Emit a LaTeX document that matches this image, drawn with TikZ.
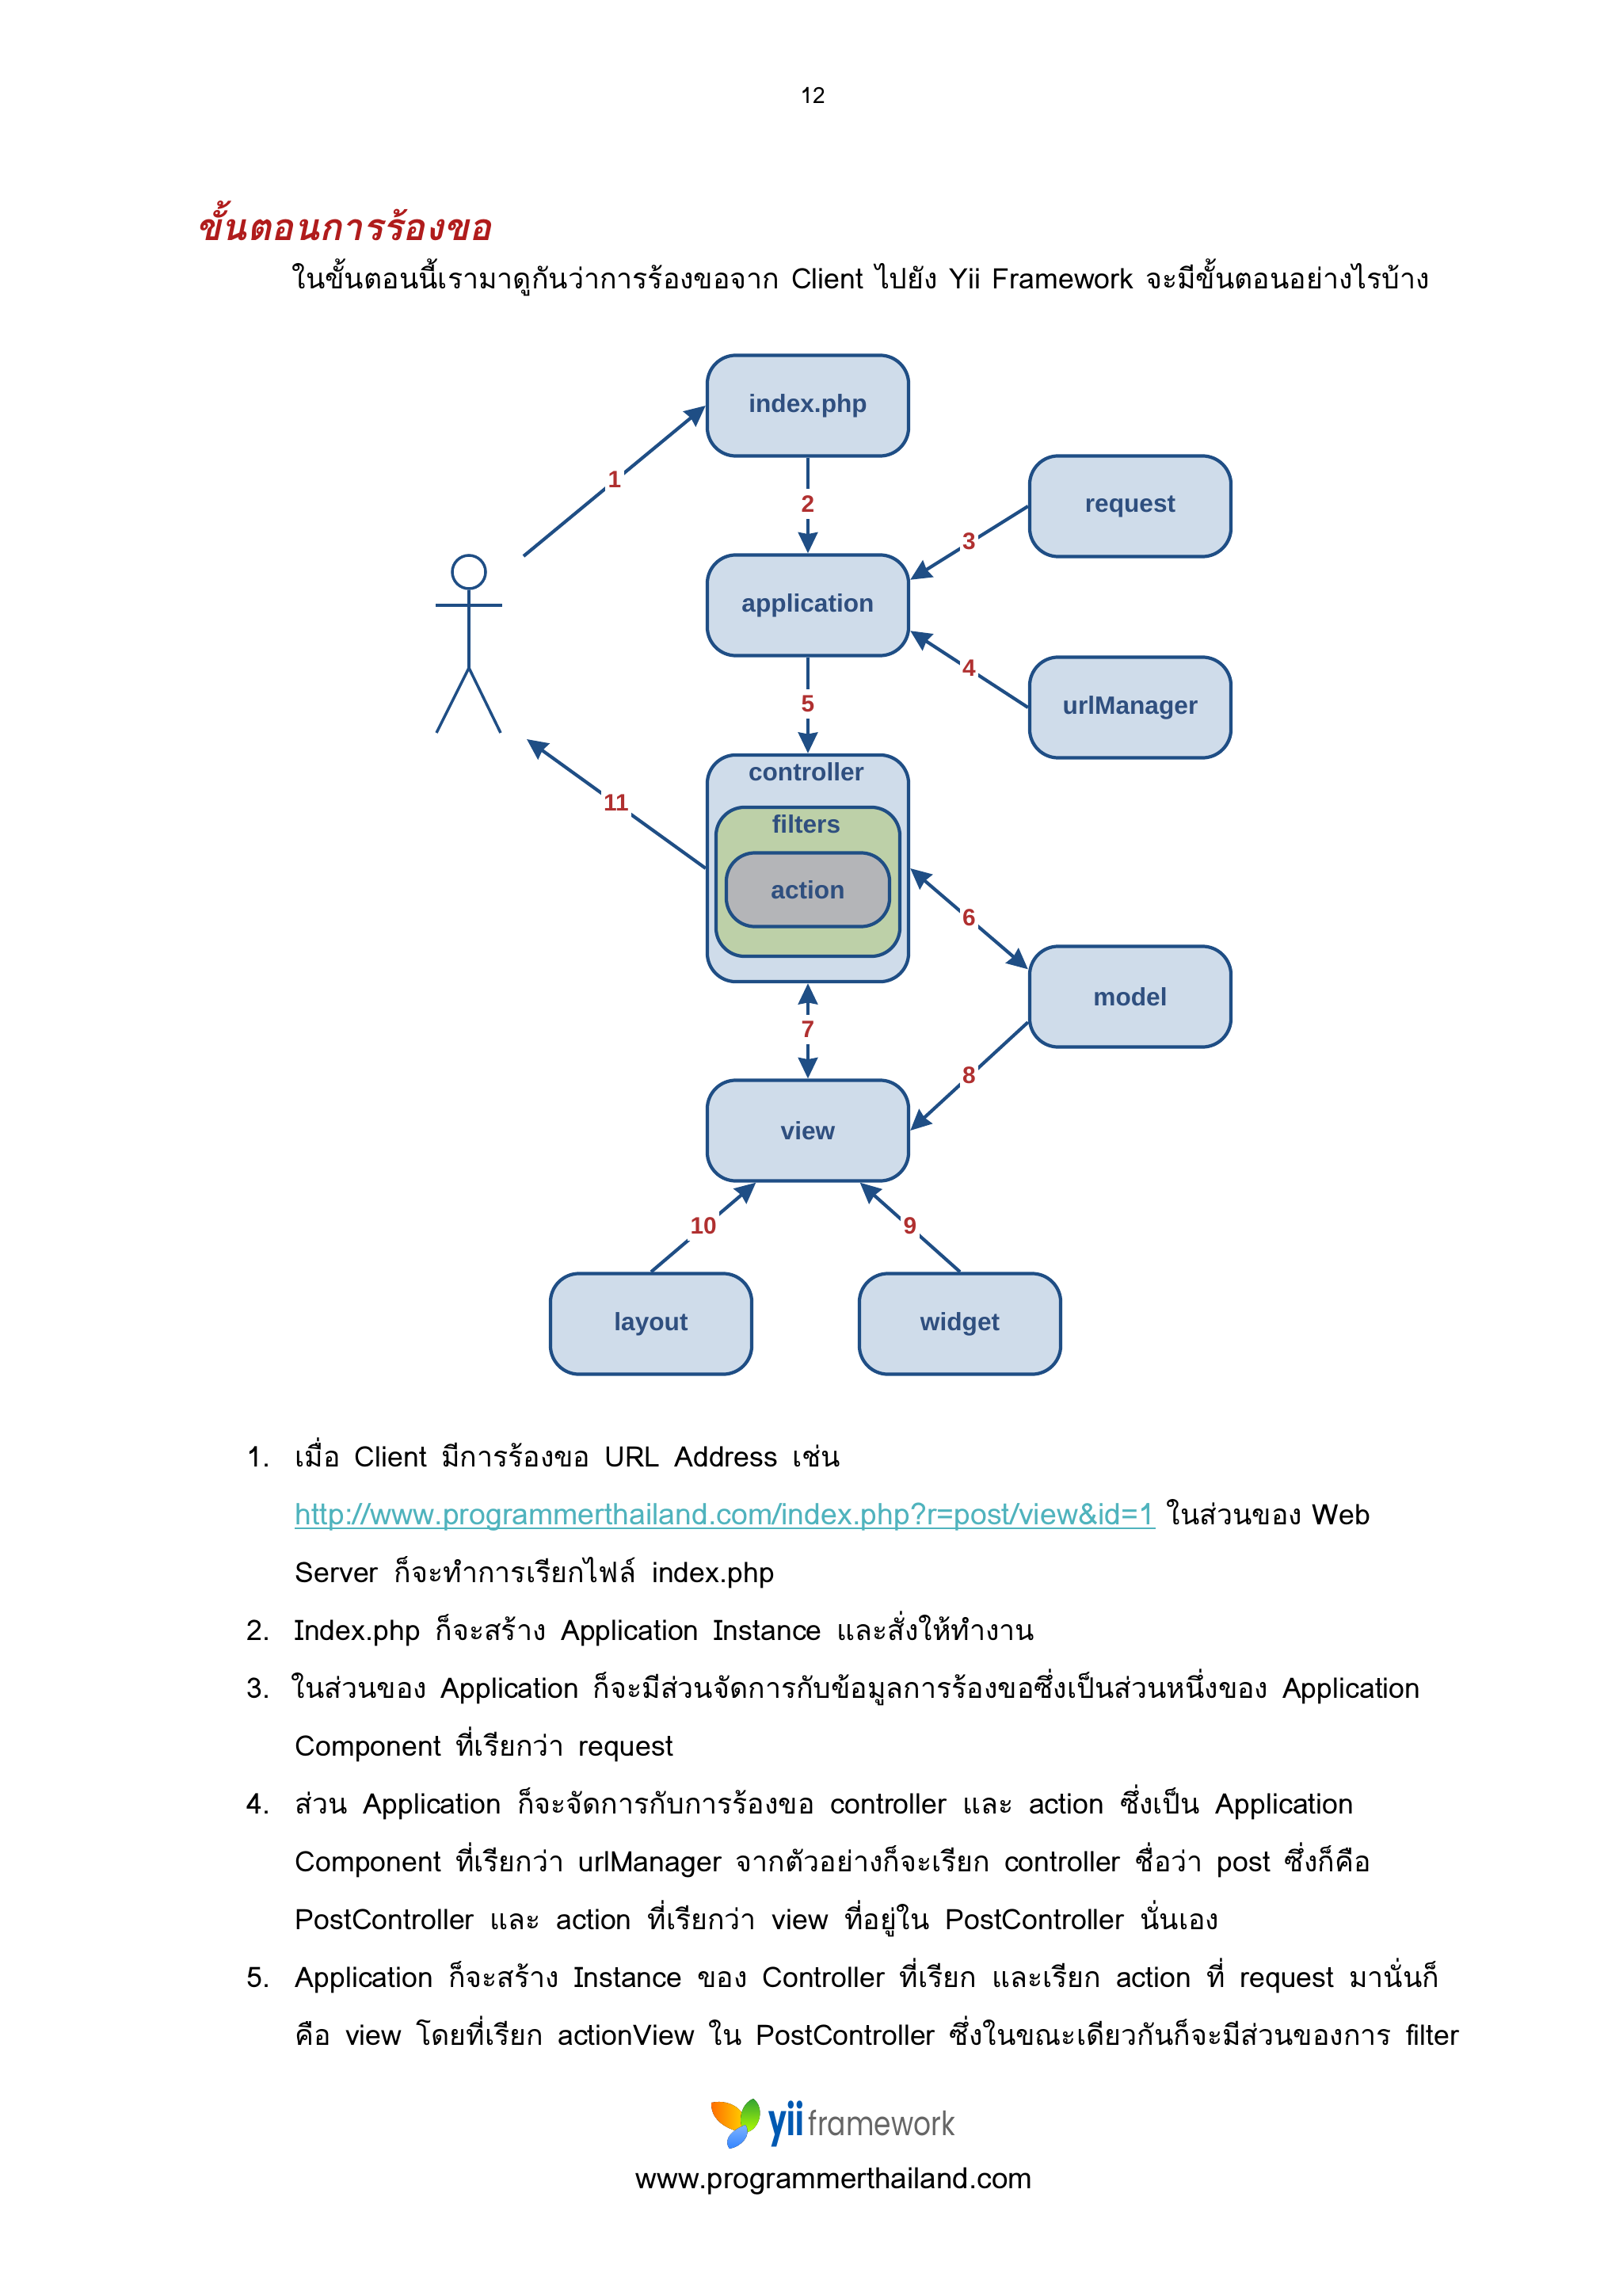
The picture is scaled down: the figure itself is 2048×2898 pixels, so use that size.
\documentclass[tikz,border=0pt]{standalone}
\usepackage{fontspec}
\usepackage{tikz}
\usetikzlibrary{arrows.meta}
\setmainfont{Liberation Sans}
\newfontfamily\thaifont[Script=Thai]{Loma}
\newfontfamily\logofont{Poppins}
\definecolor{boxblue}{HTML}{CFDCEA}
\definecolor{boxline}{HTML}{1F4E85}
\definecolor{boxtext}{HTML}{2F4F7F}
\definecolor{filtergreen}{HTML}{BDD0A8}
\definecolor{actiongrey}{HTML}{B4B5B8}
\definecolor{steptext}{HTML}{B03030}
\definecolor{headred}{HTML}{B01C1C}
\definecolor{linkteal}{HTML}{4FB3BD}
\def\fitline#1#2{\makebox[#1cm][s]{#2}}
\tikzset{
	blockbox/.style={draw=boxline, line width=1.2pt, fill=boxblue, rounded corners=0.36cm, minimum width=2.54cm, minimum height=1.27cm, text=boxtext, font=\bfseries\fontsize{9}{11}\selectfont},
	blocktext/.style={text=boxtext, font=\bfseries\fontsize{9}{11}\selectfont},
	flow/.style={draw=boxline, line width=1.2pt, -{Stealth[length=7.5pt, width=7pt, inset=0.6pt]}},
	twoway/.style={draw=boxline, line width=1.2pt, {Stealth[length=7.5pt, width=7pt, inset=0.6pt]}-{Stealth[length=7.5pt, width=7pt, inset=0.6pt]}},
	steplabel/.style={midway, fill=white, inner xsep=1pt, inner ysep=2.4pt, yshift=0.5pt, text=steptext, font=\bfseries\fontsize{8.5}{10}\selectfont},
	actorline/.style={draw=boxline, line width=1pt},
	bodytext/.style={anchor=base west, inner sep=0pt, font=\thaifont\fontsize{10.15}{12}\selectfont},
}

\begin{document}
\begin{tikzpicture}[x=0.01cm, y=-0.01cm]
	\useasboundingbox (0, 0) rectangle (2048, 2898);

	\node[inner sep=0pt, font=\thaifont\fontsize{8}{10}\selectfont] (pagenum) at (1026, 120) {12};
	\node[bodytext, text=headred, font=\thaifont\bfseries\itshape\fontsize{13.4}{16}\selectfont] (heading) at (247, 304) {ขั้นตอนการร้องขอ};
	\node[bodytext] (intro) at (368, 365) {\fitline{14.35}{ในขั้นตอนนี้เรามาดูกันว่าการร้องขอจาก Client ไปยัง Yii Framework จะมีขั้นตอนอย่างไรบ้าง}};

	\node[blockbox] (index) at (1020, 512) {index.php};
	\node[blockbox] (application) at (1020, 764) {application};
	\node[blockbox] (request) at (1427, 639) {request};
	\node[blockbox] (urlmanager) at (1427, 893) {urlManager};
	\node[blockbox, minimum height=2.86cm] (controller) at (1020, 1096) {};
	\node[blockbox, fill=filtergreen, minimum width=2.32cm, minimum height=1.88cm] (filters) at (1020, 1113) {};
	\node[blockbox, fill=actiongrey, minimum width=2.06cm, minimum height=0.93cm] (action) at (1020, 1123) {action};
	\node[blocktext] (controllertext) at (1018, 974) {controller};
	\node[blocktext] (filterstext) at (1018, 1040) {filters};
	\node[blockbox] (model) at (1427, 1258) {model};
	\node[blockbox] (view) at (1020, 1427) {view};
	\node[blockbox] (layout) at (822, 1671) {layout};
	\node[blockbox] (widget) at (1212, 1671) {widget};

	\node[circle, actorline, minimum size=0.42cm, inner sep=0pt] (head) at (592, 722) {};
	\draw[actorline] (head.south) -- (592, 843);
	\draw[actorline] (550, 764) -- (634, 764);
	\draw[actorline] (551, 925) -- (592, 843) -- (632, 925);
	\coordinate (actorout) at (661, 702);
	\coordinate (actorin) at (665, 933);

	\draw[flow] (actorout) -- node[steplabel] (one) {1} (index.west);
	\draw[flow] (index) -- node[steplabel] (two) {2} (application);
	\draw[flow] (request.west) -- node[steplabel] (three) {3} (application.14);
	\draw[flow] (urlmanager.west) -- node[steplabel] (four) {4} (application.-14);
	\draw[flow] (application) -- node[steplabel] (five) {5} (controller);
	\draw[twoway] (controller.east) -- node[steplabel] (six) {6} (model.165);
	\draw[twoway] (controller) -- node[steplabel] (seven) {7} (view);
	\draw[flow] (model.194) -- node[steplabel] (eight) {8} (view.east);
	\draw[flow] (widget.north) -- node[steplabel] (nine) {9} (view.315);
	\draw[flow] (layout.north) -- node[steplabel] (ten) {10} (view.225);
	\draw[flow] (controller.west) -- node[steplabel] (eleven) {11} (actorin);

	\node[bodytext] (numone) at (311, 1851) {1.};
	\node[bodytext] (lineone) at (372, 1851) {\fitline{6.88}{เมื่อ Client มีการร้องขอ URL Address เช่น}};
	\node[bodytext, text=linkteal, font=\thaifont\fontsize{10.66}{12}\selectfont] (link) at (372, 1924) {http://www.programmerthailand.com/index.php?r=post/view\&id=1};
	\draw[linkteal, line width=0.6pt] ([yshift=-1.5pt]link.base west) -- ([yshift=-1.5pt]link.base east);
	\node[bodytext] (linetwo) at (1472, 1924) {\fitline{2.57}{ในส่วนของ Web}};
	\node[bodytext] (linethree) at (372, 1997) {\fitline{6.05}{Server ก็จะทำการเรียกไฟล์ index.php}};
	\node[bodytext] (numtwo) at (311, 2070) {2.};
	\node[bodytext] (linefour) at (372, 2070) {\fitline{9.33}{Index.php ก็จะสร้าง Application Instance และสั่งให้ทำงาน}};
	\node[bodytext] (numthree) at (311, 2143) {3.};
	\node[bodytext] (linefive) at (367, 2143) {\fitline{14.25}{ในส่วนของ Application ก็จะมีส่วนจัดการกับข้อมูลการร้องขอซึ่งเป็นส่วนหนึ่งของ Application}};
	\node[bodytext] (linesix) at (372, 2216) {\fitline{4.77}{Component ที่เรียกว่า request}};
	\node[bodytext] (numfour) at (311, 2289) {4.};
	\node[bodytext] (lineseven) at (372, 2289) {\fitline{13.36}{ส่วน Application ก็จะจัดการกับการร้องขอ controller และ action ซึ่งเป็น Application}};
	\node[bodytext] (lineeight) at (372, 2362) {\fitline{13.57}{Component ที่เรียกว่า urlManager จากตัวอย่างก็จะเรียก controller ชื่อว่า post ซึ่งก็คือ}};
	\node[bodytext] (linenine) at (372, 2435) {\fitline{11.66}{PostController และ action ที่เรียกว่า view ที่อยู่ใน PostController นั่นเอง}};
	\node[bodytext] (numfive) at (311, 2508) {5.};
	\node[bodytext] (lineten) at (372, 2508) {\fitline{14.44}{Application ก็จะสร้าง Instance ของ Controller ที่เรียก และเรียก action ที่ request มานั่นก็}};
	\node[bodytext] (lineeleven) at (372, 2581) {\fitline{14.69}{คือ view โดยที่เรียก actionView ใน PostController ซึ่งในขณะเดียวกันก็จะมีส่วนของการ filter}};

	\fill[left color=orange!85!red, right color=yellow!80!orange] (898, 2654) .. controls (925, 2648) and (948, 2668) .. (941, 2692) .. controls (925, 2690) and (897, 2680) .. cycle;
	\fill[bottom color=yellow!70!green, top color=green!55!black!80] (951, 2649) .. controls (966, 2660) and (960, 2688) .. (941, 2692) .. controls (930, 2680) and (935, 2655) .. cycle;
	\fill[top color=cyan!40!blue!50, bottom color=blue!60!cyan!80] (941, 2682) .. controls (950, 2695) and (935, 2710) .. (921, 2712) .. controls (912, 2700) and (925, 2688) .. cycle;
	\node[anchor=base west, inner sep=0pt, text=blue!50!cyan!70!black, font=\logofont\bfseries\fontsize{15.5}{17}\selectfont] (logoyii) at (970, 2695) {\scalebox{0.66}[1]{yii}};
	\node[anchor=base west, inner sep=0pt, text=black!60, font=\logofont\fontsize{10}{12}\selectfont] (logoword) at (1020, 2695) {\scalebox{0.98}[1.2]{framework}};
	\node[bodytext, font=\thaifont\fontsize{10.5}{12}\selectfont] (website) at (802, 2762) {www.programmerthailand.com};
\end{tikzpicture}
\end{document}
